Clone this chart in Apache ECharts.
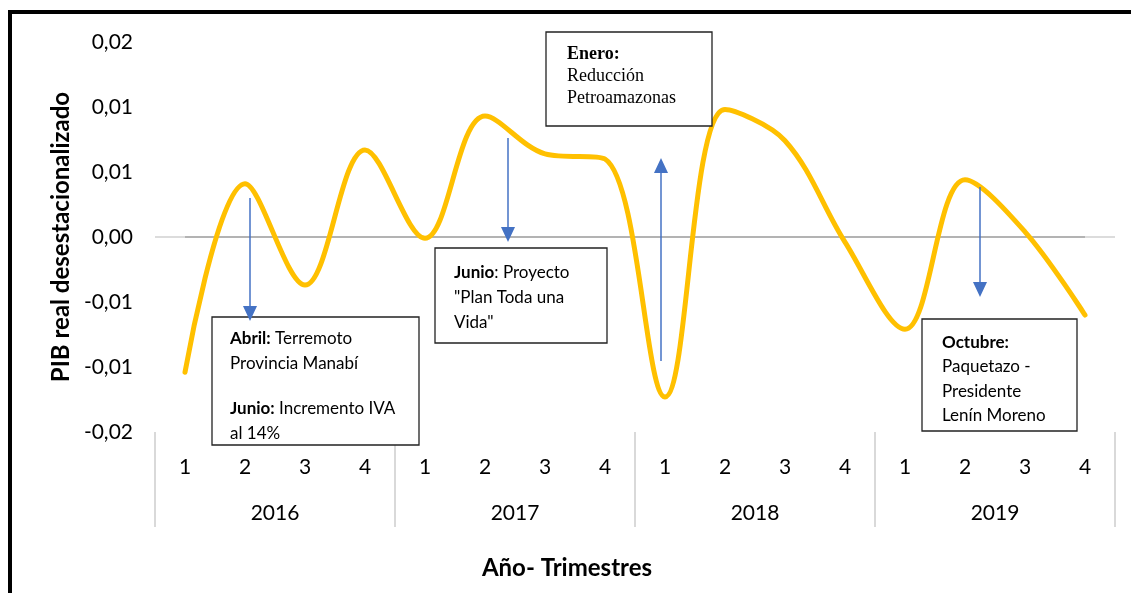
<!DOCTYPE html>
<html>
<head>
<meta charset="utf-8">
<script src="https://cdn.jsdelivr.net/npm/echarts@6/dist/echarts.min.js"></script>
<style>
  html, body { margin: 0; padding: 0; background: #ffffff; }
  #chart { width: 1131px; height: 593px; }
</style>
</head>
<body>
<div id="chart"></div>
<script>
// Quarterly deseasonalised real GDP, 2016–2019
const years = ['2016', '2017', '2018', '2019'];
const quarters = ['1', '2', '3', '4'];
const pibValues = [
  -0.0104, 0.0041, -0.0037, 0.0067,
  -0.0001, 0.0093, 0.0064, 0.0060,
  -0.0123, 0.0098, 0.0074, -0.0004,
  -0.0071, 0.0044, 0.0004, -0.0060
];
const yTickLabels = ['-0,02', '-0,01', '-0,01', '0,00', '0,01', '0,01', '0,02'];

const Y_MIN = -0.015, Y_MAX = 0.015, Y_STEP = 0.005;
const categoryKeys = [];
years.forEach(y => quarters.forEach(q => categoryKeys.push(y + '-' + q)));

const FONT = 'Lato, "Open Sans", sans-serif';
const SERIF = '"Liberation Serif", "DejaVu Serif", serif';
const ARROW_COLOR = '#4472c4';

const chart = echarts.init(document.getElementById('chart'), null, { renderer: 'canvas' });

function arrow(x, yFrom, yTo) {
  const dir = yTo > yFrom ? 1 : -1;
  const headLen = 15, headHalf = 7;
  return [
    {
      type: 'line', z: 20,
      shape: { x1: x, y1: yFrom, x2: x, y2: yTo - dir * headLen },
      style: { stroke: ARROW_COLOR, lineWidth: 1.5 }
    },
    {
      type: 'polygon', z: 20,
      shape: { points: [[x - headHalf, yTo - dir * headLen], [x + headHalf, yTo - dir * headLen], [x, yTo]] },
      style: { fill: ARROW_COLOR }
    }
  ];
}

function noteBox(x, y, w, h, textX, textY, text, family, size, lh) {
  return [
    {
      type: 'rect', z: 15,
      shape: { x: x, y: y, width: w, height: h },
      style: { fill: '#ffffff', stroke: '#222222', lineWidth: 1.3 }
    },
    {
      type: 'text', z: 16,
      x: textX, y: textY,
      style: {
        text: text,
        fontFamily: family, fontSize: size, lineHeight: lh,
        fill: '#000000',
        rich: {
          b: { fontFamily: family, fontSize: size, lineHeight: lh, fontWeight: 'bold', fill: '#000000' },
          n: { fontFamily: family, fontSize: size, lineHeight: lh, fill: '#000000' },
          gap: { fontFamily: family, fontSize: size, lineHeight: 20, fill: '#000000' }
        }
      }
    }
  ];
}

const annotations = [].concat(
  noteBox(212, 317, 207, 128, 230, 326,
    '{b|Abril:}{n| Terremoto}\n{n|Provincia Manabí}\n{gap| }\n{b|Junio:}{n| Incremento IVA}\n{n|al 14%}',
    FONT, 17, 25),
  arrow(250, 198, 321),
  noteBox(435, 248, 172, 95, 454, 260,
    '{b|Junio}{n|: Proyecto}\n{n|"Plan Toda una}\n{n|Vida"}',
    FONT, 17, 25),
  arrow(508, 138, 242),
  noteBox(546, 32, 166, 94, 567, 43,
    '{b|Enero:}\n{n|Reducción}\n{n|Petroamazonas}',
    SERIF, 18, 22),
  arrow(661, 361, 158),
  noteBox(922, 319, 155, 112, 942, 330,
    '{b|Octubre:}\n{n|Paquetazo -}\n{n|Presidente}\n{n|Lenín Moreno}',
    FONT, 17, 24.5),
  arrow(980, 187, 297)
);

const option = {
  backgroundColor: '#ffffff',
  animation: false,
  grid: { left: 155, top: 42, width: 960, height: 390, containLabel: false },
  xAxis: [
    {
      type: 'category',
      data: categoryKeys,
      boundaryGap: true,
      position: 'bottom',
      name: 'Año- Trimestres',
      nameLocation: 'middle',
      nameGap: 124,
      nameTextStyle: {
        fontFamily: FONT, fontSize: 24, fontWeight: 'bold', color: '#000000',
        padding: [0, 136, 0, 0]
      },
      axisLine: { show: false, onZero: false },
      axisTick: { show: false },
      splitLine: { show: false },
      axisLabel: {
        interval: 0, margin: 25,
        fontFamily: FONT, fontSize: 21, color: '#000000',
        formatter: v => v.split('-')[1]
      }
    },
    {
      type: 'category',
      data: years,
      boundaryGap: true,
      position: 'bottom',
      axisLine: { show: false, onZero: false },
      axisTick: {
        show: true, interval: 0, alignWithLabel: false, inside: false, length: 95,
        lineStyle: { color: '#d9d9d9', width: 2 }
      },
      splitLine: { show: false },
      axisLabel: { interval: 0, margin: 71, fontFamily: FONT, fontSize: 21, color: '#000000' }
    }
  ],
  yAxis: {
    type: 'value',
    min: Y_MIN, max: Y_MAX, interval: Y_STEP,
    name: 'PIB real desestacionalizado',
    nameLocation: 'middle',
    nameGap: 81,
    nameRotate: 90,
    nameTextStyle: { fontFamily: FONT, fontSize: 24, fontWeight: 'bold', color: '#000000' },
    axisLine: { show: false },
    axisTick: { show: false },
    splitLine: { show: false },
    axisLabel: {
      margin: 22,
      fontFamily: FONT, fontSize: 21, color: '#000000',
      formatter: v => yTickLabels[Math.round((v - Y_MIN) / Y_STEP)]
    }
  },
  series: [
    {
      // zero reference line, drawn beneath the curve
      type: 'line', data: [], z: 1, silent: true,
      markLine: {
        silent: true, symbol: 'none', label: { show: false },
        lineStyle: { color: '#d0d0d0', width: 1.5, type: 'solid' },
        data: [
          { yAxis: 0 },
          [
            { coord: ['2016-1', 0], lineStyle: { color: '#a6a6a6', width: 1.5, type: 'solid' } },
            { coord: ['2019-4', 0] }
          ]
        ]
      }
    },
    {
      name: 'PIB',
      type: 'line',
      data: pibValues,
      smooth: 0.35,
      showSymbol: false,
      z: 5,
      lineStyle: { color: '#ffc000', width: 5, cap: 'round', join: 'round' },
      itemStyle: { color: '#ffc000' }
    }
  ],
  graphic: [
    {
      type: 'rect', z: 30, silent: true,
      shape: { x: 10, y: 12, width: 1200, height: 700 },
      style: { fill: 'none', stroke: '#000000', lineWidth: 4 }
    }
  ].concat(annotations)
};

chart.setOption(option);
</script>
</body>
</html>
